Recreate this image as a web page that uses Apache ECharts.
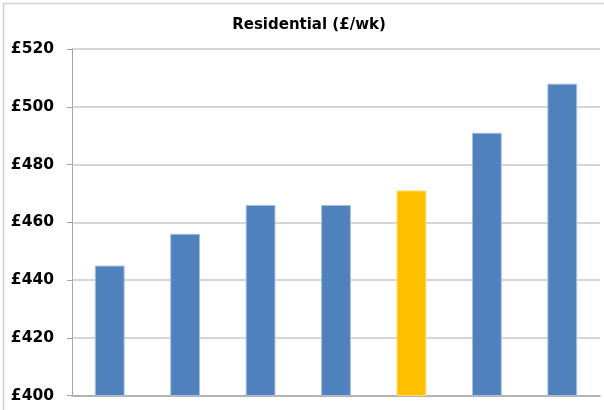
<!DOCTYPE html>
<html>
<head>
<meta charset="utf-8">
<script src="https://cdn.jsdelivr.net/npm/echarts@6/dist/echarts.min.js"></script>
<style>
  html, body { margin: 0; padding: 0; background: #fff; }
  #chart { width: 604px; height: 410px; }
</style>
</head>
<body>
<div id="chart"></div>
<script>
// Weekly residential cost per provider (£/wk)
const categories = ['A', 'B', 'C', 'D', 'E', 'F', 'G'];
const weeklyCost = [445, 456, 466, 466, 471, 491, 508];
const highlighted = 'E';
const yTicks = { min: 400, max: 520, step: 20 };

const BLUE = '#4F81BD';
const GOLD = '#FFC000';

const chart = echarts.init(document.getElementById('chart'), null, { renderer: 'canvas' });

const seriesData = weeklyCost.map((v, i) => ({
  value: v,
  itemStyle: {
    color: categories[i] === highlighted ? GOLD : BLUE,
    borderColor: categories[i] === highlighted ? '#FFD966' : '#A7BFDE',
    borderWidth: 1
  }
}));

chart.setOption({
  animation: false,
  backgroundColor: '#ffffff',
  title: {
    text: 'Residential (£/wk)',
    left: 304,
    textAlign: 'center',
    top: 13,
    textStyle: {
      fontFamily: 'DejaVu Sans',
      fontWeight: 'bold',
      fontSize: 15,
      color: '#000'
    }
  },
  graphic: [
    { type: 'line', shape: { x1: 3.5, y1: 3.5, x2: 604, y2: 3.5 }, style: { stroke: '#D0D0D0', lineWidth: 1.5 } },
    { type: 'line', shape: { x1: 3.5, y1: 3.5, x2: 3.5, y2: 410 }, style: { stroke: '#D0D0D0', lineWidth: 1.5 } }
  ],
  grid: { left: 72, right: 4, top: 49, bottom: 14.5, containLabel: false },
  xAxis: {
    type: 'category',
    data: categories,
    axisLine: { show: true, lineStyle: { color: '#A6A6A6', width: 1.5 } },
    axisTick: { show: false },
    axisLabel: { show: false }
  },
  yAxis: {
    type: 'value',
    min: yTicks.min,
    max: yTicks.max,
    interval: yTicks.step,
    axisLine: { show: true, lineStyle: { color: '#A6A6A6', width: 1 } },
    axisTick: { show: true, length: 5, lineStyle: { color: '#A6A6A6' } },
    splitLine: { show: true, lineStyle: { color: '#C8C8C8', width: 1.5 } },
    axisLabel: {
      margin: 18,
      formatter: v => '£' + v,
      fontFamily: 'DejaVu Sans',
      fontWeight: 'bold',
      fontSize: 15.5,
      color: '#000'
    }
  },
  series: [{
    type: 'bar',
    data: seriesData,
    barCategoryGap: '60.5%'
  }]
});
</script>
</body>
</html>
